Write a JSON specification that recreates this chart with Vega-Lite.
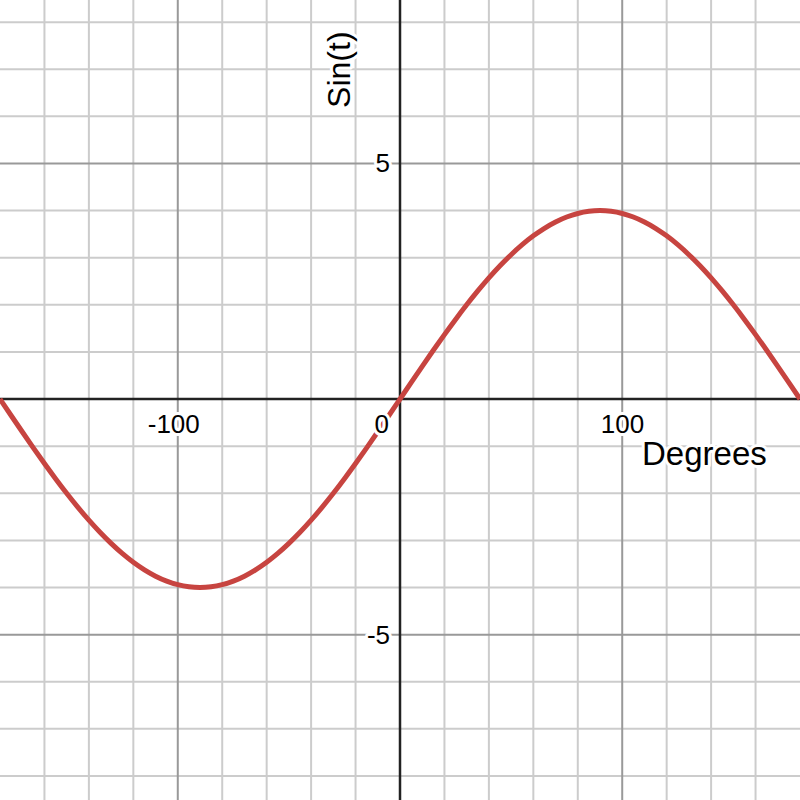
{
  "$schema": "https://vega.github.io/schema/vega-lite/v6.json",
  "width": 800,
  "height": 800,
  "padding": 0,
  "autosize": {"type": "none"},
  "background": "white",
  "config": {"view": {"stroke": null}},
  "datasets": {
    "minorX": [{"v":-160},{"v":-140},{"v":-120},{"v":-80},{"v":-60},{"v":-40},{"v":-20},{"v":20},{"v":40},{"v":60},{"v":80},{"v":120},{"v":140},{"v":160}],
    "minorY": [{"v":-8},{"v":-7},{"v":-6},{"v":-4},{"v":-3},{"v":-2},{"v":-1},{"v":1},{"v":2},{"v":3},{"v":4},{"v":6},{"v":7},{"v":8}],
    "majorX": [{"v":-100},{"v":100}],
    "majorY": [{"v":-5},{"v":5}],
    "zero": [{"v":0}],
    "curve": [
      {"t":-180,"s":0},{"t":-175,"s":-0.3486},{"t":-170,"s":-0.6946},{"t":-165,"s":-1.0353},{"t":-160,"s":-1.3681},{"t":-155,"s":-1.6905},{"t":-150,"s":-2.0},{"t":-145,"s":-2.2943},{"t":-140,"s":-2.5712},{"t":-135,"s":-2.8284},{"t":-130,"s":-3.0642},{"t":-125,"s":-3.2766},{"t":-120,"s":-3.4641},{"t":-115,"s":-3.6252},{"t":-110,"s":-3.7588},{"t":-105,"s":-3.8637},{"t":-100,"s":-3.9392},{"t":-95,"s":-3.9848},{"t":-90,"s":-4.0},{"t":-85,"s":-3.9848},{"t":-80,"s":-3.9392},{"t":-75,"s":-3.8637},{"t":-70,"s":-3.7588},{"t":-65,"s":-3.6252},{"t":-60,"s":-3.4641},{"t":-55,"s":-3.2766},{"t":-50,"s":-3.0642},{"t":-45,"s":-2.8284},{"t":-40,"s":-2.5712},{"t":-35,"s":-2.2943},{"t":-30,"s":-2.0},{"t":-25,"s":-1.6905},{"t":-20,"s":-1.3681},{"t":-15,"s":-1.0353},{"t":-10,"s":-0.6946},{"t":-5,"s":-0.3486},
      {"t":0,"s":0},{"t":5,"s":0.3486},{"t":10,"s":0.6946},{"t":15,"s":1.0353},{"t":20,"s":1.3681},{"t":25,"s":1.6905},{"t":30,"s":2.0},{"t":35,"s":2.2943},{"t":40,"s":2.5712},{"t":45,"s":2.8284},{"t":50,"s":3.0642},{"t":55,"s":3.2766},{"t":60,"s":3.4641},{"t":65,"s":3.6252},{"t":70,"s":3.7588},{"t":75,"s":3.8637},{"t":80,"s":3.9392},{"t":85,"s":3.9848},{"t":90,"s":4.0},{"t":95,"s":3.9848},{"t":100,"s":3.9392},{"t":105,"s":3.8637},{"t":110,"s":3.7588},{"t":115,"s":3.6252},{"t":120,"s":3.4641},{"t":125,"s":3.2766},{"t":130,"s":3.0642},{"t":135,"s":2.8284},{"t":140,"s":2.5712},{"t":145,"s":2.2943},{"t":150,"s":2.0},{"t":155,"s":1.6905},{"t":160,"s":1.3681},{"t":165,"s":1.0353},{"t":170,"s":0.6946},{"t":175,"s":0.3486},{"t":180,"s":0}
    ],
    "xticks": [{"v":-100,"label":"-100"},{"v":100,"label":"100"}],
    "xzero": [{"v":0,"label":"0"}],
    "yticks": [{"v":5,"label":"5"},{"v":-5,"label":"-5"}],
    "xtitle": [{"x":108.9,"y":-1.4,"label":"Degrees"}],
    "ytitle": [{"x":-22.5,"y":6.18,"label":"Sin(t)"}]
  },
  "layer": [
    {
      "data": {"name": "minorX"},
      "mark": {"type": "rule", "color": "#cccccc", "strokeWidth": 2},
      "encoding": {"x": {"field": "v", "type": "quantitative", "scale": {"domain": [-180, 180], "nice": false, "zero": false}, "axis": null}}
    },
    {
      "data": {"name": "minorY"},
      "mark": {"type": "rule", "color": "#cccccc", "strokeWidth": 2},
      "encoding": {"y": {"field": "v", "type": "quantitative", "scale": {"domain": [-8.51, 8.47], "nice": false, "zero": false}, "axis": null}}
    },
    {
      "data": {"name": "majorX"},
      "mark": {"type": "rule", "color": "#999999", "strokeWidth": 2},
      "encoding": {"x": {"field": "v", "type": "quantitative", "axis": null}}
    },
    {
      "data": {"name": "majorY"},
      "mark": {"type": "rule", "color": "#999999", "strokeWidth": 2},
      "encoding": {"y": {"field": "v", "type": "quantitative", "axis": null}}
    },
    {
      "data": {"name": "zero"},
      "mark": {"type": "rule", "color": "#222222", "strokeWidth": 2.5},
      "encoding": {"x": {"field": "v", "type": "quantitative", "axis": null}}
    },
    {
      "data": {"name": "zero"},
      "mark": {"type": "rule", "color": "#222222", "strokeWidth": 2.5},
      "encoding": {"y": {"field": "v", "type": "quantitative", "axis": null}}
    },
    {
      "data": {"name": "curve"},
      "mark": {"type": "line", "color": "#c74440", "strokeWidth": 5, "interpolate": "monotone", "clip": true},
      "encoding": {
        "x": {"field": "t", "type": "quantitative", "axis": null},
        "y": {"field": "s", "type": "quantitative", "axis": null}
      }
    },
    {
      "data": {"name": "xticks"},
      "mark": {"type": "text", "font": "Liberation Sans, Arial", "fontSize": 26, "align": "right", "baseline": "alphabetic", "dx": 22, "dy": 34, "stroke": "white", "strokeWidth": 6, "strokeJoin": "round", "fill": "white"},
      "encoding": {"x": {"field": "v", "type": "quantitative"}, "y": {"datum": 0, "type": "quantitative"}, "text": {"field": "label"}}
    },
    {
      "data": {"name": "xticks"},
      "mark": {"type": "text", "font": "Liberation Sans, Arial", "fontSize": 26, "align": "right", "baseline": "alphabetic", "dx": 22, "dy": 34, "color": "black"},
      "encoding": {"x": {"field": "v", "type": "quantitative"}, "y": {"datum": 0, "type": "quantitative"}, "text": {"field": "label"}}
    },
    {
      "data": {"name": "xzero"},
      "mark": {"type": "text", "font": "Liberation Sans, Arial", "fontSize": 26, "align": "right", "baseline": "alphabetic", "dx": -11, "dy": 34, "stroke": "white", "strokeWidth": 6, "strokeJoin": "round", "fill": "white"},
      "encoding": {"x": {"field": "v", "type": "quantitative"}, "y": {"datum": 0, "type": "quantitative"}, "text": {"field": "label"}}
    },
    {
      "data": {"name": "xzero"},
      "mark": {"type": "text", "font": "Liberation Sans, Arial", "fontSize": 26, "align": "right", "baseline": "alphabetic", "dx": -11, "dy": 34, "color": "black"},
      "encoding": {"x": {"field": "v", "type": "quantitative"}, "y": {"datum": 0, "type": "quantitative"}, "text": {"field": "label"}}
    },
    {
      "data": {"name": "yticks"},
      "mark": {"type": "text", "font": "Liberation Sans, Arial", "fontSize": 26, "align": "right", "baseline": "alphabetic", "dx": -10, "dy": 9, "stroke": "white", "strokeWidth": 6, "strokeJoin": "round", "fill": "white"},
      "encoding": {"x": {"datum": 0, "type": "quantitative"}, "y": {"field": "v", "type": "quantitative"}, "text": {"field": "label"}}
    },
    {
      "data": {"name": "yticks"},
      "mark": {"type": "text", "font": "Liberation Sans, Arial", "fontSize": 26, "align": "right", "baseline": "alphabetic", "dx": -10, "dy": 9, "color": "black"},
      "encoding": {"x": {"datum": 0, "type": "quantitative"}, "y": {"field": "v", "type": "quantitative"}, "text": {"field": "label"}}
    },
    {
      "data": {"name": "xtitle"},
      "mark": {"type": "text", "font": "Liberation Sans, Arial", "fontSize": 33, "align": "left", "baseline": "alphabetic", "stroke": "white", "strokeWidth": 6, "strokeJoin": "round", "fill": "white"},
      "encoding": {"x": {"field": "x", "type": "quantitative"}, "y": {"field": "y", "type": "quantitative"}, "text": {"field": "label"}}
    },
    {
      "data": {"name": "xtitle"},
      "mark": {"type": "text", "font": "Liberation Sans, Arial", "fontSize": 33, "align": "left", "baseline": "alphabetic", "color": "black"},
      "encoding": {"x": {"field": "x", "type": "quantitative"}, "y": {"field": "y", "type": "quantitative"}, "text": {"field": "label"}}
    },
    {
      "data": {"name": "ytitle"},
      "mark": {"type": "text", "font": "Liberation Sans, Arial", "fontSize": 32, "angle": 270, "align": "left", "baseline": "alphabetic", "stroke": "white", "strokeWidth": 6, "strokeJoin": "round", "fill": "white"},
      "encoding": {"x": {"field": "x", "type": "quantitative"}, "y": {"field": "y", "type": "quantitative"}, "text": {"field": "label"}}
    },
    {
      "data": {"name": "ytitle"},
      "mark": {"type": "text", "font": "Liberation Sans, Arial", "fontSize": 32, "angle": 270, "align": "left", "baseline": "alphabetic", "color": "black"},
      "encoding": {"x": {"field": "x", "type": "quantitative"}, "y": {"field": "y", "type": "quantitative"}, "text": {"field": "label"}}
    }
  ]
}
